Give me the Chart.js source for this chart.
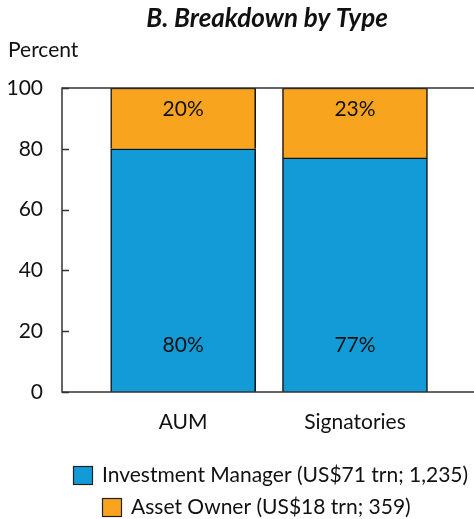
<!DOCTYPE html>
<html>
<head>
<meta charset="utf-8">
<script src="https://cdn.jsdelivr.net/npm/chart.js@4/dist/chart.umd.min.js"></script>
<style>
  html, body { margin: 0; padding: 0; background: #fff; overflow: hidden; }
  #wrap { width: 490px; height: 519px; }
</style>
</head>
<body>
<div id="wrap"><canvas id="chart" width="490" height="519"></canvas></div>
<script>
// Breakdown by type data
const categories = ["AUM", "Signatories"];
const investmentManager = [80, 77];
const assetOwner = [20, 23];
const yTicks = [0, 20, 40, 60, 80, 100];
const seriesNames = ["Investment Manager (US$71 trn; 1,235)", "Asset Owner (US$18 trn; 359)"];

const BLUE = "#129bd7";
const ORANGE = "#f9a41e";
const FONT = "Lato, 'Open Sans', sans-serif";

// frame, inner ticks, title, labels and legend
const decorPlugin = {
    id: "decor",
    afterDatasetsDraw(chart) {
        const ctx = chart.ctx;
        const area = chart.chartArea;
        const y = chart.scales.y;
        ctx.save();
        ctx.strokeStyle = "#333";
        ctx.lineWidth = 1.5;
        ctx.strokeRect(area.left, area.top, area.right - area.left, area.bottom - area.top);
        yTicks.forEach(function (v) {
            const py = Math.round(y.getPixelForValue(v)) + 0.5;
            ctx.beginPath();
            ctx.moveTo(area.left, py);
            ctx.lineTo(area.left + 7, py);
            ctx.stroke();
        });

        // value labels inside the bars
        ctx.fillStyle = "#111";
        ctx.font = "21px " + FONT;
        ctx.textAlign = "center";
        ctx.textBaseline = "middle";
        chart.getDatasetMeta(0).data.forEach(function (el, i) {
            ctx.fillText(investmentManager[i] + "%", el.x, el.base - 47);
        });
        chart.getDatasetMeta(1).data.forEach(function (el, i) {
            ctx.fillText(assetOwner[i] + "%", el.x, el.y + 21);
        });

        // title and axis caption
        ctx.textBaseline = "alphabetic";
        ctx.font = "italic bold 26px " + FONT;
        ctx.fillText("B. Breakdown by Type", 267, 27);
        ctx.font = "21px " + FONT;
        ctx.textAlign = "left";
        ctx.fillText("Percent", 8, 57);

        // legend
        const rows = [{ x: 73, y: 466, color: BLUE }, { x: 102, y: 498, color: ORANGE }];
        ctx.font = "21px " + FONT;
        rows.forEach(function (r, i) {
            ctx.fillStyle = r.color;
            ctx.fillRect(r.x, r.y, 20, 19);
            ctx.strokeStyle = "#222";
            ctx.lineWidth = 1.2;
            ctx.strokeRect(r.x + 0.5, r.y + 0.5, 19, 18);
            ctx.fillStyle = "#111";
            ctx.fillText(seriesNames[i], r.x + 29, r.y + 16);
        });
        ctx.restore();
    }
};

function makeChart() {
    const ctx = document.getElementById("chart").getContext("2d");
    new Chart(ctx, {
        type: "bar",
        data: {
            datasets: [
                {
                    label: seriesNames[0],
                    data: categories.map(function (c, i) { return { x: i + 1, y: investmentManager[i] }; }),
                    backgroundColor: BLUE,
                    borderColor: "#111",
                    borderWidth: 1.5,
                    barThickness: 145,
                },
                {
                    label: seriesNames[1],
                    data: categories.map(function (c, i) { return { x: i + 1, y: assetOwner[i] }; }),
                    backgroundColor: ORANGE,
                    borderColor: "#111",
                    borderWidth: 1.5,
                    barThickness: 145,
                },
            ],
        },
        options: {
            responsive: false,
            animation: false,
            layout: { padding: { left: 0, right: 7, top: 88, bottom: 67 } },
            plugins: {
                legend: { display: false },
                title: { display: false },
                tooltip: { enabled: false },
            },
            scales: {
                x: {
                    type: "linear",
                    stacked: true,
                    offset: false,
                    bounds: "data",
                    min: 0.295,
                    max: 2.745,
                    afterBuildTicks: function (scale) {
                        scale.ticks = categories.map(function (c, i) { return { value: i + 1 }; });
                    },
                    afterFit: function (scale) { scale.height = 60; },
                    grid: { display: false, drawTicks: false, offset: false },
                    border: { display: false },
                    ticks: {
                        padding: 18,
                        color: "#111",
                        font: { family: FONT, size: 21 },
                        callback: function (v) { return categories[v - 1] || ""; },
                    },
                },
                y: {
                    stacked: true,
                    min: 0,
                    max: 100,
                    afterBuildTicks: function (scale) {
                        scale.ticks = yTicks.map(function (v) { return { value: v }; });
                    },
                    afterFit: function (scale) { scale.width = 62; },
                    grid: { display: false, drawTicks: false },
                    border: { display: false },
                    ticks: {
                        padding: 19,
                        color: "#111",
                        font: { family: FONT, size: 21 },
                    },
                },
            },
        },
        plugins: [decorPlugin],
    });
}

Promise.all([
    document.fonts.load("21px Lato"),
    document.fonts.load("italic bold 26px Lato"),
]).then(makeChart, makeChart);
</script>
</body>
</html>
